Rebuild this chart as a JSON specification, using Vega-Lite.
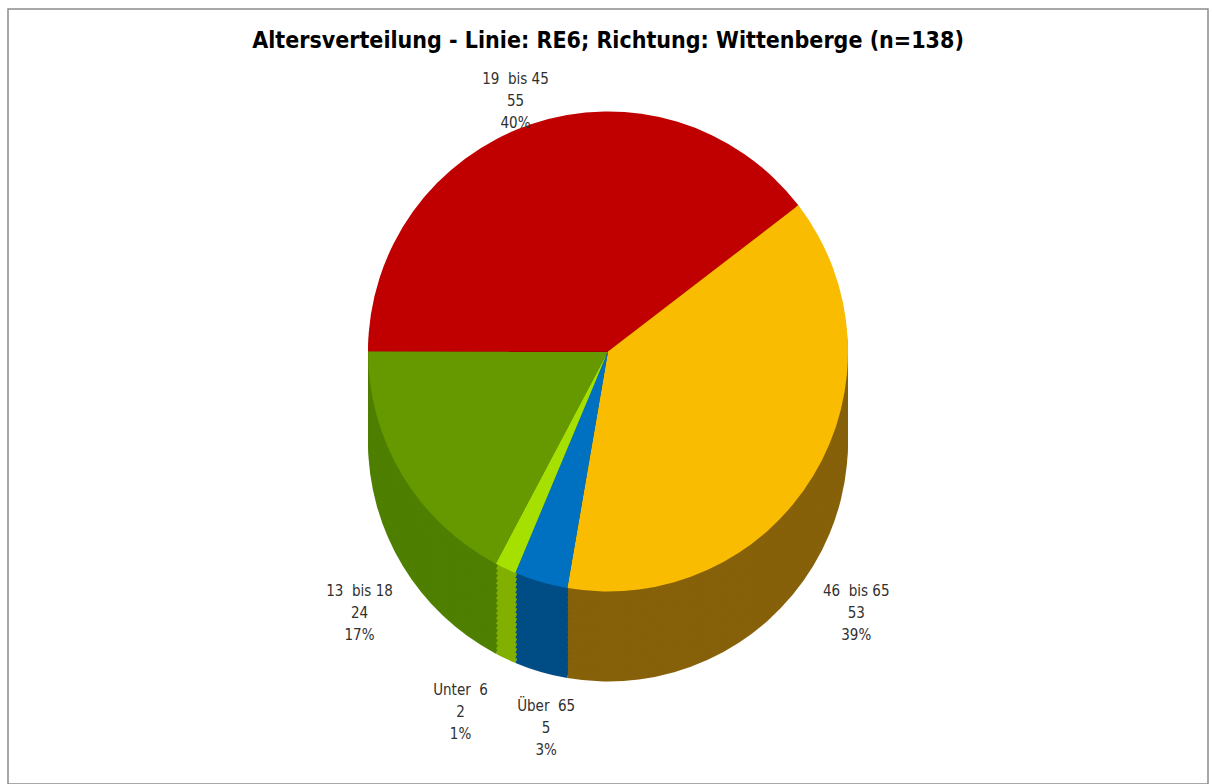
{
  "$schema": "https://vega.github.io/schema/vega-lite/v6.json",
  "width": 1212,
  "height": 784,
  "autosize": {"type": "fit", "contains": "padding"},
  "padding": {"top": 9, "left": 8, "right": 4, "bottom": 0},
  "background": "white",
  "view": {"stroke": "#8c8c8c", "strokeWidth": 1.5},
  "config": {"view": {"stroke": "#8c8c8c", "strokeWidth": 1.5}},
  "title": {
    "text": "Altersverteilung - Linie: RE6; Richtung: Wittenberge (n=138)",
    "font": "DejaVu Sans Condensed",
    "fontSize": 23,
    "fontWeight": "bold",
    "color": "#000000",
    "anchor": "middle",
    "frame": "group",
    "offset": -44
  },
  "data": {
    "values": [
      {"Nr": 1, "Gruppe": "Unter 6", "Anzahl": 2, "Label": "Unter\u00a0 6\n2\n1%"},
      {"Nr": 2, "Gruppe": "13 bis 18", "Anzahl": 24, "Label": "13\u00a0 bis 18\n24\n17%"},
      {"Nr": 3, "Gruppe": "19 bis 45", "Anzahl": 55, "Label": "19\u00a0 bis 45\n55\n40%"},
      {"Nr": 4, "Gruppe": "46 bis 65", "Anzahl": 53, "Label": "46\u00a0 bis 65\n53\n39%"},
      {"Nr": 5, "Gruppe": "Über 65", "Anzahl": 5, "Label": "Über\u00a0 65\n5\n3%"}
    ]
  },
  "encoding": {
    "theta": {"field": "Anzahl", "type": "quantitative", "stack": true, "scale": {"range": [3.5378, 9.8210]}},
    "order": {"field": "Nr", "type": "quantitative"}
  },
  "layer": [
    {"mark": {"type": "arc", "outerRadius": 240, "yOffset": 45}, "encoding": {"fill": {"field": "Gruppe", "type": "nominal", "legend": null, "scale": {"domain": ["Unter 6", "13 bis 18", "19 bis 45", "46 bis 65", "Über 65"], "range": ["#82B000", "#4E7F00", "#8A0000", "#86610A", "#004C84"]}}}},
    {"mark": {"type": "arc", "outerRadius": 240, "yOffset": 40}, "encoding": {"fill": {"field": "Gruppe", "type": "nominal", "legend": null}}},
    {"mark": {"type": "arc", "outerRadius": 240, "yOffset": 35}, "encoding": {"fill": {"field": "Gruppe", "type": "nominal", "legend": null}}},
    {"mark": {"type": "arc", "outerRadius": 240, "yOffset": 30}, "encoding": {"fill": {"field": "Gruppe", "type": "nominal", "legend": null}}},
    {"mark": {"type": "arc", "outerRadius": 240, "yOffset": 25}, "encoding": {"fill": {"field": "Gruppe", "type": "nominal", "legend": null}}},
    {"mark": {"type": "arc", "outerRadius": 240, "yOffset": 20}, "encoding": {"fill": {"field": "Gruppe", "type": "nominal", "legend": null}}},
    {"mark": {"type": "arc", "outerRadius": 240, "yOffset": 15}, "encoding": {"fill": {"field": "Gruppe", "type": "nominal", "legend": null}}},
    {"mark": {"type": "arc", "outerRadius": 240, "yOffset": 10}, "encoding": {"fill": {"field": "Gruppe", "type": "nominal", "legend": null}}},
    {"mark": {"type": "arc", "outerRadius": 240, "yOffset": 5}, "encoding": {"fill": {"field": "Gruppe", "type": "nominal", "legend": null}}},
    {"mark": {"type": "arc", "outerRadius": 240, "yOffset": 0}, "encoding": {"fill": {"field": "Gruppe", "type": "nominal", "legend": null}}},
    {"mark": {"type": "arc", "outerRadius": 240, "yOffset": -5}, "encoding": {"fill": {"field": "Gruppe", "type": "nominal", "legend": null}}},
    {"mark": {"type": "arc", "outerRadius": 240, "yOffset": -10}, "encoding": {"fill": {"field": "Gruppe", "type": "nominal", "legend": null}}},
    {"mark": {"type": "arc", "outerRadius": 240, "yOffset": -15}, "encoding": {"fill": {"field": "Gruppe", "type": "nominal", "legend": null}}},
    {"mark": {"type": "arc", "outerRadius": 240, "yOffset": -20}, "encoding": {"fill": {"field": "Gruppe", "type": "nominal", "legend": null}}},
    {"mark": {"type": "arc", "outerRadius": 240, "yOffset": -25}, "encoding": {"fill": {"field": "Gruppe", "type": "nominal", "legend": null}}},
    {"mark": {"type": "arc", "outerRadius": 240, "yOffset": -30}, "encoding": {"fill": {"field": "Gruppe", "type": "nominal", "legend": null}}},
    {"mark": {"type": "arc", "outerRadius": 240, "yOffset": -35}, "encoding": {"fill": {"field": "Gruppe", "type": "nominal", "legend": null}}},
    {"mark": {"type": "arc", "outerRadius": 240, "yOffset": -40}, "encoding": {"fill": {"field": "Gruppe", "type": "nominal", "legend": null}}},
    {"mark": {"type": "arc", "outerRadius": 240, "yOffset": -45}, "encoding": {"color": {"field": "Gruppe", "type": "nominal", "legend": null, "scale": {"domain": ["Unter 6", "13 bis 18", "19 bis 45", "46 bis 65", "Über 65"], "range": ["#A6E000", "#669900", "#C00000", "#F9BC00", "#0070C0"]}}}},
    {"mark": {"type": "text", "radius": 288, "yOffset": -45, "lineBreak": "\n", "lineHeight": 22, "fontSize": 15, "font": "DejaVu Sans Condensed", "color": "#303030", "align": "center", "baseline": "middle"},
     "encoding": {"text": {"condition": {"test": "datum.Gruppe === '19 bis 45'", "field": "Label"}, "value": ""}}},
    {"mark": {"type": "text", "radius": 290, "yOffset": 45, "lineBreak": "\n", "lineHeight": 22, "fontSize": 15, "font": "DejaVu Sans Condensed", "color": "#303030", "align": "center", "baseline": "middle"},
     "encoding": {"text": {"condition": {"test": "datum.Gruppe === '13 bis 18' || datum.Gruppe === '46 bis 65'", "field": "Label"}, "value": ""}}},
    {"mark": {"type": "text", "radius": 275, "yOffset": 45, "dx": -30, "lineBreak": "\n", "lineHeight": 22, "fontSize": 15, "font": "DejaVu Sans Condensed", "color": "#303030", "align": "center", "baseline": "middle"},
     "encoding": {"text": {"condition": {"test": "datum.Gruppe === 'Unter 6'", "field": "Label"}, "value": ""}}},
    {"mark": {"type": "text", "radius": 275, "yOffset": 45, "dx": 15, "lineBreak": "\n", "lineHeight": 22, "fontSize": 15, "font": "DejaVu Sans Condensed", "color": "#303030", "align": "center", "baseline": "middle"},
     "encoding": {"text": {"condition": {"test": "datum.Gruppe === 'Über 65'", "field": "Label"}, "value": ""}}}
  ]
}
